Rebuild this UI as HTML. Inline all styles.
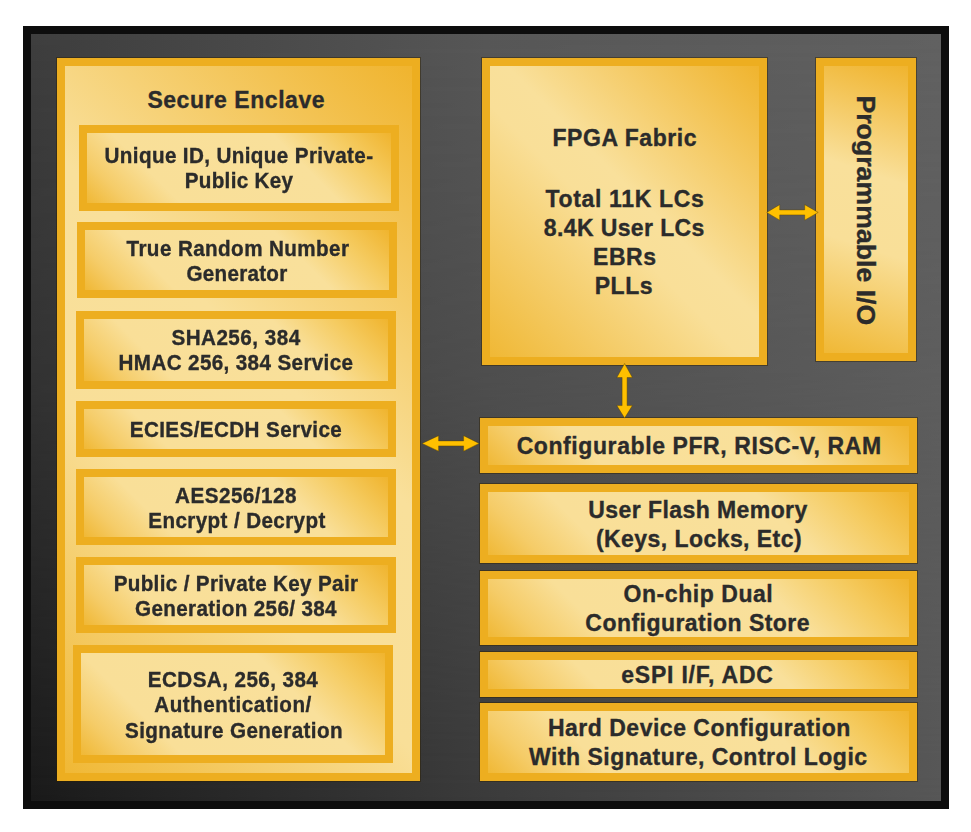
<!DOCTYPE html>
<html><head><meta charset="utf-8"><title>Block Diagram</title>
<style>
html,body{margin:0;padding:0;background:#fff;}
body{width:971px;height:832px;position:relative;overflow:hidden;font-family:"Liberation Sans",sans-serif;}
#frame{position:absolute;left:23px;top:26px;width:926px;height:783px;background:#0d0d0d;}
#bg{position:absolute;left:31px;top:34px;width:910px;height:767px;
 background:linear-gradient(to right,#1a1a1a 0%,#3b3b3b 50%,#575757 100%);}
#bg2{position:absolute;left:31px;top:34px;width:910px;height:767px;
 background:linear-gradient(to right,#3e3e3e 0%,#575757 50%,#616161 100%);
 -webkit-mask-image:linear-gradient(to bottom,#000 0%,rgba(0,0,0,.68) 45%,rgba(0,0,0,0) 100%);mask-image:linear-gradient(to bottom,#000 0%,rgba(0,0,0,.68) 45%,rgba(0,0,0,0) 100%);}
.bx{position:absolute;box-sizing:border-box;border:8px solid #EDAE20;background:linear-gradient(45deg, #f0b835 0%, #f4c760 9%, #f9df98 21%, #f9e09b 76%, #f4c55a 89%, #f0b42e 100%);}
.t{position:absolute;width:500px;text-align:center;font-weight:bold;color:#2b2b2b;white-space:nowrap;-webkit-text-stroke:0.35px #2b2b2b;}
svg{position:absolute;left:0;top:0;}
</style></head><body>
<div id="frame"></div><div id="bg"></div><div id="bg2"></div>

<div class="bx" style="left:57px;top:58px;width:363px;height:723px;background:linear-gradient(45.0deg, #f0b835 0%, #f9df98 35%, #f9e09b 58%, #f0b42e 100%);box-shadow:0 0 0 1px rgba(45,32,0,0.45)"></div>
<div class="bx" style="left:79px;top:125px;width:320px;height:86px;background:linear-gradient(45.0deg, #f0b835 0%, #f5cc68 11%, #f9df98 25%, #f9e09b 68%, #f5cb60 85%, #f0b42e 100%)"></div>
<div class="bx" style="left:77px;top:222px;width:320px;height:76px;background:linear-gradient(45.0deg, #f0b835 0%, #f5cc68 11%, #f9df98 25%, #f9e09b 68%, #f5cb60 85%, #f0b42e 100%)"></div>
<div class="bx" style="left:76px;top:311px;width:320px;height:78px;background:linear-gradient(45.0deg, #f0b835 0%, #f5cc68 11%, #f9df98 25%, #f9e09b 68%, #f5cb60 85%, #f0b42e 100%)"></div>
<div class="bx" style="left:76px;top:401px;width:320px;height:56px;background:linear-gradient(45.0deg, #f0b835 0%, #f5cc68 11%, #f9df98 25%, #f9e09b 68%, #f5cb60 85%, #f0b42e 100%)"></div>
<div class="bx" style="left:76px;top:469px;width:320px;height:76px;background:linear-gradient(45.0deg, #f0b835 0%, #f5cc68 11%, #f9df98 25%, #f9e09b 68%, #f5cb60 85%, #f0b42e 100%)"></div>
<div class="bx" style="left:76px;top:557px;width:320px;height:76px;background:linear-gradient(45.0deg, #f0b835 0%, #f5cc68 11%, #f9df98 25%, #f9e09b 68%, #f5cb60 85%, #f0b42e 100%)"></div>
<div class="bx" style="left:73px;top:645px;width:320px;height:118px;background:linear-gradient(45.0deg, #f0b835 0%, #f5cc68 11%, #f9df98 25%, #f9e09b 68%, #f5cb60 85%, #f0b42e 100%)"></div>
<div class="bx" style="left:482px;top:58px;width:285px;height:307px;background:linear-gradient(45.0deg, #f0b835 0%, #f9df98 45%, #f9e09b 55%, #f0b42e 100%);box-shadow:0 0 0 1px rgba(45,32,0,0.45)"></div>
<div class="bx" style="left:816px;top:58px;width:100px;height:303px;background:linear-gradient(18.0deg, #f0b835 0%, #f9df98 38%, #f9e09b 62%, #f0b42e 100%);box-shadow:0 0 0 1px rgba(45,32,0,0.45)"></div>
<div class="bx" style="left:480px;top:418px;width:437px;height:55px;background:linear-gradient(45.0deg, #f0b835 0%, #f5cc68 11%, #f9df98 25%, #f9e09b 68%, #f5cb60 85%, #f0b42e 100%);box-shadow:0 0 0 1px rgba(45,32,0,0.45)"></div>
<div class="bx" style="left:480px;top:484px;width:437px;height:79px;background:linear-gradient(45.0deg, #f0b835 0%, #f5cc68 11%, #f9df98 25%, #f9e09b 68%, #f5cb60 85%, #f0b42e 100%);box-shadow:0 0 0 1px rgba(45,32,0,0.45)"></div>
<div class="bx" style="left:480px;top:571px;width:437px;height:74px;background:linear-gradient(45.0deg, #f0b835 0%, #f5cc68 11%, #f9df98 25%, #f9e09b 68%, #f5cb60 85%, #f0b42e 100%);box-shadow:0 0 0 1px rgba(45,32,0,0.45)"></div>
<div class="bx" style="left:480px;top:652px;width:437px;height:45px;background:linear-gradient(45.0deg, #f0b835 0%, #f5cc68 11%, #f9df98 25%, #f9e09b 68%, #f5cb60 85%, #f0b42e 100%);box-shadow:0 0 0 1px rgba(45,32,0,0.45)"></div>
<div class="bx" style="left:480px;top:703px;width:437px;height:78px;background:linear-gradient(45.0deg, #f0b835 0%, #f5cc68 11%, #f9df98 25%, #f9e09b 68%, #f5cb60 85%, #f0b42e 100%);box-shadow:0 0 0 1px rgba(45,32,0,0.45)"></div>
<div class="t" style="left:-13.72px;top:89.00px;font-size:23.00px;line-height:23.00px;letter-spacing:0.55px;transform:scaleX(1.000)">Secure Enclave</div>
<div class="t" style="left:-10.55px;top:146.00px;font-size:21.50px;line-height:21.50px;letter-spacing:0.39px;transform:scaleX(0.960)">Unique ID, Unique Private-</div>
<div class="t" style="left:-10.64px;top:171.00px;font-size:21.50px;line-height:21.50px;letter-spacing:0.32px;transform:scaleX(0.960)">Public Key</div>
<div class="t" style="left:-11.69px;top:239.00px;font-size:21.50px;line-height:21.50px;letter-spacing:0.42px;transform:scaleX(0.960)">True Random Number</div>
<div class="t" style="left:-13.07px;top:264.00px;font-size:21.50px;line-height:21.50px;letter-spacing:0.26px;transform:scaleX(0.960)">Generator</div>
<div class="t" style="left:-13.85px;top:328.00px;font-size:21.50px;line-height:21.50px;letter-spacing:0.50px;transform:scaleX(0.960)">SHA256, 384</div>
<div class="t" style="left:-14.11px;top:353.00px;font-size:21.50px;line-height:21.50px;letter-spacing:0.38px;transform:scaleX(0.960)">HMAC 256, 384 Service</div>
<div class="t" style="left:-13.90px;top:420.00px;font-size:21.50px;line-height:21.50px;letter-spacing:0.41px;transform:scaleX(0.960)">ECIES/ECDH Service</div>
<div class="t" style="left:-14.00px;top:486.00px;font-size:21.50px;line-height:21.50px;letter-spacing:0.50px;transform:scaleX(0.960)">AES256/128</div>
<div class="t" style="left:-12.95px;top:511.00px;font-size:21.50px;line-height:21.50px;letter-spacing:0.40px;transform:scaleX(0.960)">Encrypt / Decrypt</div>
<div class="t" style="left:-13.62px;top:574.00px;font-size:21.50px;line-height:21.50px;letter-spacing:0.35px;transform:scaleX(0.960)">Public / Private Key Pair</div>
<div class="t" style="left:-13.61px;top:599.00px;font-size:21.50px;line-height:21.50px;letter-spacing:0.38px;transform:scaleX(0.960)">Generation 256/ 384</div>
<div class="t" style="left:-16.88px;top:670.00px;font-size:21.50px;line-height:21.50px;letter-spacing:0.44px;transform:scaleX(0.960)">ECDSA, 256, 384</div>
<div class="t" style="left:-16.70px;top:695.00px;font-size:21.50px;line-height:21.50px;letter-spacing:0.50px;transform:scaleX(0.960)">Authentication/</div>
<div class="t" style="left:-15.99px;top:721.00px;font-size:21.50px;line-height:21.50px;letter-spacing:0.42px;transform:scaleX(0.960)">Signature Generation</div>
<div class="t" style="left:374.77px;top:127.00px;font-size:23.00px;line-height:23.00px;letter-spacing:0.55px;transform:scaleX(1.000)">FPGA Fabric</div>
<div class="t" style="left:374.93px;top:188.00px;font-size:23.00px;line-height:23.00px;letter-spacing:0.66px;transform:scaleX(1.000)">Total 11K LCs</div>
<div class="t" style="left:374.29px;top:217.00px;font-size:23.00px;line-height:23.00px;letter-spacing:0.38px;transform:scaleX(1.000)">8.4K User LCs</div>
<div class="t" style="left:374.82px;top:246.00px;font-size:23.00px;line-height:23.00px;letter-spacing:0.55px;transform:scaleX(1.000)">EBRs</div>
<div class="t" style="left:373.93px;top:275.00px;font-size:23.00px;line-height:23.00px;letter-spacing:0.55px;transform:scaleX(1.000)">PLLs</div>
<div class="t" style="left:449.20px;top:435.00px;font-size:23.00px;line-height:23.00px;letter-spacing:0.59px;transform:scaleX(1.000)">Configurable PFR, RISC-V, RAM</div>
<div class="t" style="left:447.97px;top:499.00px;font-size:23.00px;line-height:23.00px;letter-spacing:0.43px;transform:scaleX(1.000)">User Flash Memory</div>
<div class="t" style="left:448.97px;top:528.00px;font-size:23.00px;line-height:23.00px;letter-spacing:0.44px;transform:scaleX(1.000)">(Keys, Locks, Etc)</div>
<div class="t" style="left:448.42px;top:583.00px;font-size:23.00px;line-height:23.00px;letter-spacing:0.55px;transform:scaleX(1.000)">On-chip Dual</div>
<div class="t" style="left:447.68px;top:612.00px;font-size:23.00px;line-height:23.00px;letter-spacing:0.46px;transform:scaleX(1.000)">Configuration Store</div>
<div class="t" style="left:447.49px;top:664.00px;font-size:23.00px;line-height:23.00px;letter-spacing:0.78px;transform:scaleX(1.000)">eSPI I/F, ADC</div>
<div class="t" style="left:449.35px;top:717.00px;font-size:23.00px;line-height:23.00px;letter-spacing:0.51px;transform:scaleX(1.000)">Hard Device Configuration</div>
<div class="t" style="left:448.30px;top:746.00px;font-size:23.00px;line-height:23.00px;letter-spacing:0.49px;transform:scaleX(1.000)">With Signature, Control Logic</div>
<div class="t" style="width:300px;left:716.00px;top:197.15px;font-size:26.70px;line-height:26.70px;transform:rotate(90deg);transform-origin:50% 50%">Programmable I/O</div>
<svg width="971" height="832" viewBox="0 0 971 832">
<polygon fill="#FFC000" stroke="#5a4300" stroke-opacity="0.55" stroke-width="0.8" stroke-linejoin="miter" points="766.70,212.40 779.70,204.65 779.70,209.90 804.70,209.90 804.70,204.65 818.20,212.40 804.70,220.15 804.70,214.90 779.70,214.90 779.70,220.15"/>
<polygon fill="#FFC000" stroke="#5a4300" stroke-opacity="0.55" stroke-width="0.8" stroke-linejoin="miter" points="624.60,363.50 632.35,377.50 627.10,377.50 627.10,405.60 632.35,405.60 624.60,418.10 616.85,405.60 622.10,405.60 622.10,377.50 616.85,377.50"/>
<polygon fill="#FFC000" stroke="#5a4300" stroke-opacity="0.55" stroke-width="0.8" stroke-linejoin="miter" points="422.10,443.40 438.60,435.65 438.60,440.90 463.60,440.90 463.60,435.65 479.10,443.40 463.60,451.15 463.60,445.90 438.60,445.90 438.60,451.15"/>
</svg>
</body></html>
